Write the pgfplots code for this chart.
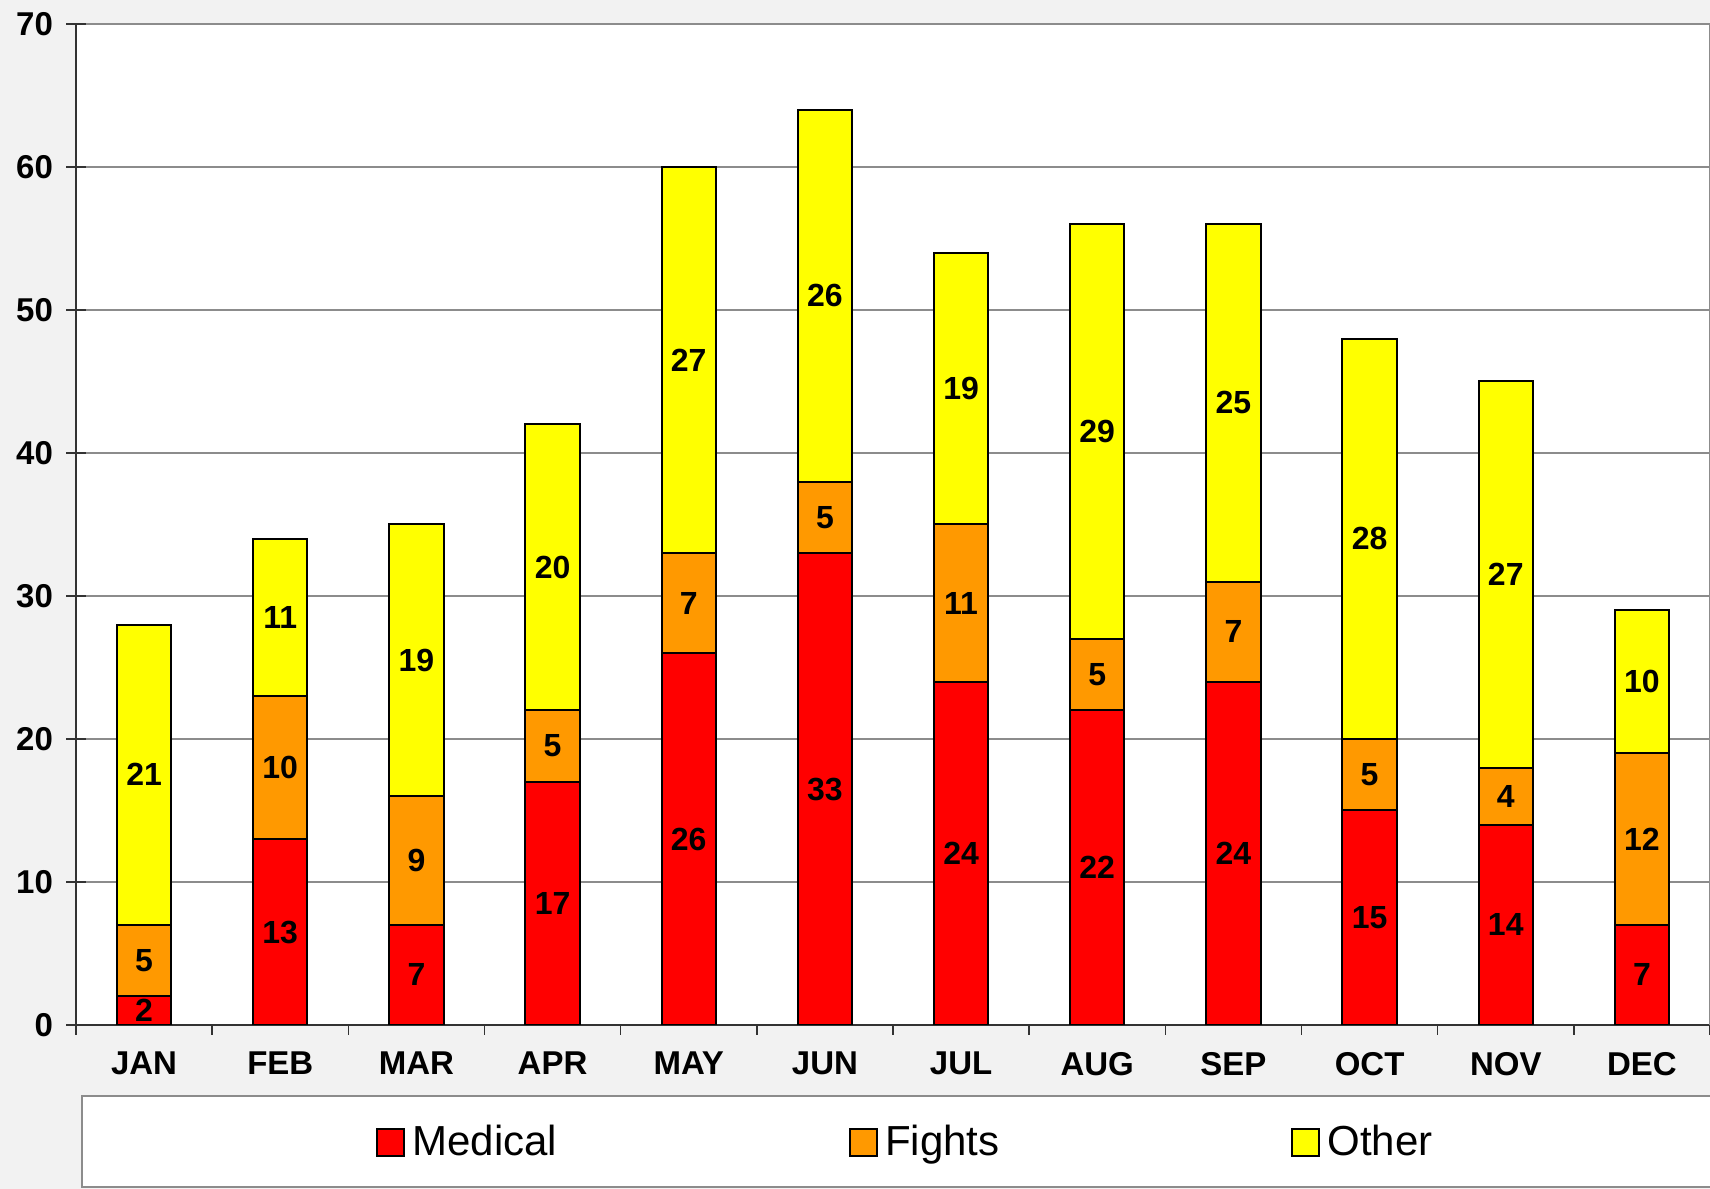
\documentclass[border=0pt]{standalone}
\usepackage{fontspec}
\setmainfont{Liberation Sans}
\usepackage{pgfplots}
\usepackage{pgfplotstable}
\pgfplotsset{compat=1.18}

\definecolor{bg}{HTML}{F2F2F2}
\definecolor{med}{HTML}{FF0000}
\definecolor{fig}{HTML}{FF9900}
\definecolor{oth}{HTML}{FFFF00}
\definecolor{gridgray}{HTML}{8C8C8C}

\pgfplotstableread{
x y
0 2
1 13
2 7
3 17
4 26
5 33
6 24
7 22
8 24
9 15
10 14
11 7
}\medical

\pgfplotstableread{
x y
0 5
1 10
2 9
3 5
4 7
5 5
6 11
7 5
8 7
9 5
10 4
11 12
}\fights

\pgfplotstableread{
x y
0 21
1 11
2 19
3 20
4 27
5 26
6 19
7 29
8 25
9 28
10 27
11 10
}\other

\begin{document}
\begin{tikzpicture}
\path[use as bounding box, fill=bg] (0,0) rectangle (855pt,594.5pt);
% legend frame
\draw[gridgray, line width=1pt, fill=white] (41pt,1pt) rectangle (856pt,46.5pt);
\begin{axis}[
    at={(38pt,82pt)}, anchor=south west,
    scale only axis,
    width=817pt, height=500.5pt,
    ybar stacked,
    bar width=0.4,
    xmin=-0.5, xmax=11.5,
    ymin=0, ymax=70,
    ytick={0,10,...,70},
    xtick={0,...,11},
    xticklabels={JAN,FEB,MAR,APR,MAY,JUN,JUL,AUG,SEP,OCT,NOV,DEC},
    minor xtick={-0.5,0.5,...,11.5},
    axis x line*=bottom, axis y line*=left,
    axis line style={draw=black!80, line width=1pt, -},
    axis background/.style={fill=white},
    ymajorgrids, major grid style={draw=gridgray, line width=0.8pt},
    xtick align=outside, ytick align=center,
    major x tick style={draw=none},
    minor x tick style={black!80, line width=0.8pt},
    major y tick style={black!80, line width=0.8pt},
    major tick length=10pt, minor tick length=5pt,
    /pgf/number format/assume math mode=true,
    ticklabel style={font=\bfseries\fontsize{16.5}{16.5}\selectfont},
    yticklabel style={xshift=-3pt},
    xticklabel style={yshift=0pt},
    every axis plot/.append style={draw=black, line width=1pt},
    visualization depends on={rawy \as \segval},
    nodes near coords={\pgfmathprintnumber{\segval}},
    nodes near coords align={center},
    every node near coord/.append style={
        font=\bfseries\fontsize{16}{16}\selectfont, text=black,
        anchor=center},
    legend columns=-1,
    legend image code/.code={\draw[#1] (0pt,-6.75pt) rectangle (13.5pt,6.75pt);},
    legend style={draw=none, fill=none,
        at={(0.1836,-0.1169)}, anchor=west,
        font=\fontsize{21}{21}\selectfont,
        inner sep=0pt,
        nodes={inner sep=0pt},
        /tikz/every odd column/.append style={column sep=3.5pt},
        /tikz/every even column/.append style={column sep=146pt}},
]
\addplot[fill=med] table[x=x, y=y] {\medical};
\addplot[fill=fig] table[x=x, y=y] {\fights};
\addplot[fill=oth] table[x=x, y=y] {\other};
\legend{Medical,Fights,Other}
\end{axis}
\draw[gridgray, line width=1pt] (855pt,82pt) -- (855pt,582.5pt);
\end{tikzpicture}
\end{document}
